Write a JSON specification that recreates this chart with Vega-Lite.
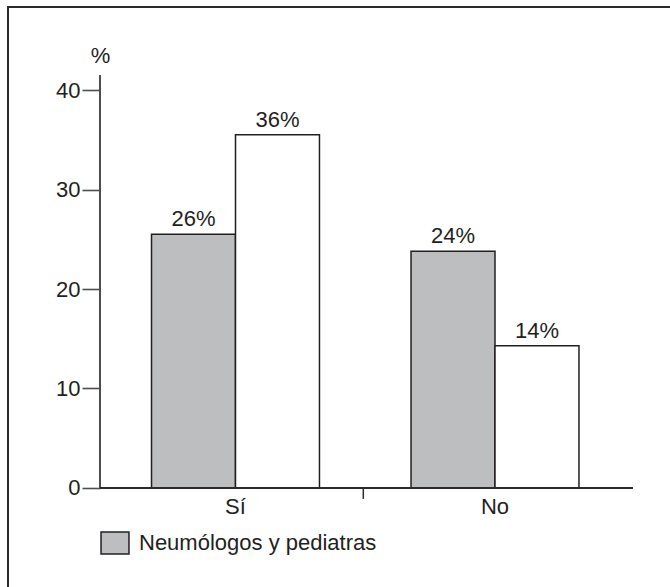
{
  "$schema": "https://vega.github.io/schema/vega-lite/v6.json",
  "autosize": {"type": "none"},
  "padding": {"left": 8, "top": 7, "right": -30, "bottom": -30},
  "width": 692,
  "height": 610,
  "background": "#ffffff",
  "config": {
    "view": {"stroke": "#2b2b2b", "strokeWidth": 2},
    "font": "Liberation Sans",
    "axis": {"labelFont": "Liberation Sans", "labelColor": "#231f20", "labelFontSize": 22, "titleFont": "Liberation Sans", "titleColor": "#231f20", "titleFontSize": 22, "titleFontWeight": "normal", "grid": false},
    "axisX": {"offset": -129, "domain": false, "ticks": false, "tickSize": 0, "labelPadding": 25, "labelBaseline": "alphabetic", "labelAngle": 0},
    "axisY": {"offset": -92, "domain": false, "tickSize": 18, "tickColor": "#4d4d4d", "tickWidth": 1.6, "labelPadding": 2},
    "legend": {"labelFont": "Liberation Sans", "labelFontSize": 22, "labelColor": "#231f20", "labelLimit": 500}
  },
  "layer": [
    {
      "data": {"values": [
        {"respuesta": "Sí", "grupo": "Neumólogos y pediatras", "valor": 25.5, "etiqueta": "26%"},
        {"respuesta": "Sí", "grupo": "Otros", "valor": 35.5, "etiqueta": "36%"},
        {"respuesta": "No", "grupo": "Neumólogos y pediatras", "valor": 23.8, "etiqueta": "24%"},
        {"respuesta": "No", "grupo": "Otros", "valor": 14.3, "etiqueta": "14%"}
      ]},
      "encoding": {
        "x": {"field": "respuesta", "type": "nominal", "title": null, "sort": ["Sí", "No"],
              "scale": {"domain": ["Sí", "No"], "paddingInner": 0, "paddingOuter": 0.33333, "align": 0.565}},
        "xOffset": {"field": "grupo", "type": "nominal", "sort": ["Neumólogos y pediatras", "Otros"],
                    "scale": {"domain": ["Neumólogos y pediatras", "Otros"], "paddingInner": 0, "paddingOuter": 0.545}},
        "y": {"field": "valor", "type": "quantitative", "title": "%",
              "scale": {"domain": [-12.965, 48.342], "nice": false, "zero": false},
              "axis": {"values": [0, 10, 20, 30, 40], "titleAngle": 0, "titleX": 0, "titleY": 48, "titleAlign": "center", "titleBaseline": "middle"}}
      },
      "layer": [
        {
          "mark": {"type": "bar", "stroke": "#231f20", "strokeWidth": 1.5},
          "encoding": {
            "y2": {"datum": 0},
            "color": {"field": "grupo", "type": "nominal",
                      "scale": {"domain": ["Neumólogos y pediatras", "Otros"], "range": ["#bcbec0", "#ffffff"]},
                      "legend": {"title": null, "values": ["Neumólogos y pediatras"], "orient": "none", "legendX": 95, "legendY": 524, "padding": 0,
                                 "symbolType": "M-1.27,-1H1.27V1H-1.27Z", "symbolSize": 484, "symbolStrokeColor": "#231f20", "symbolStrokeWidth": 1.5, "symbolOpacity": 1,
                                 "labelOffset": 12, "labelBaseline": "middle", "labelLimit": 500}}
          }
        },
        {
          "mark": {"type": "text", "fontSize": 22, "color": "#231f20", "baseline": "alphabetic", "dy": -8},
          "encoding": {"text": {"field": "etiqueta"}}
        }
      ]
    },
    {
      "data": {"values": [{"linea": "eje y"}]},
      "mark": {"type": "rule", "color": "#4d4d4d", "strokeWidth": 2},
      "encoding": {
        "x": {"datum": "Sí", "type": "nominal", "bandPosition": -0.02216},
        "y": {"datum": 0, "type": "quantitative"},
        "y2": {"datum": 41.5}
      }
    },
    {
      "data": {"values": [{"linea": "eje x"}]},
      "mark": {"type": "rule", "color": "#2b2b2b", "strokeWidth": 2},
      "encoding": {
        "x": {"datum": "Sí", "type": "nominal", "bandPosition": -0.02216},
        "x2": {"datum": "No", "bandPosition": 1.0318},
        "y": {"datum": 0, "type": "quantitative"}
      }
    },
    {
      "data": {"values": [{"linea": "marca"}]},
      "mark": {"type": "rule", "color": "#2b2b2b", "strokeWidth": 1.5},
      "encoding": {
        "x": {"datum": "No", "type": "nominal", "bandPosition": -0.0075},
        "y": {"datum": 0, "type": "quantitative"},
        "y2": {"datum": -1.1}
      }
    }
  ]
}
